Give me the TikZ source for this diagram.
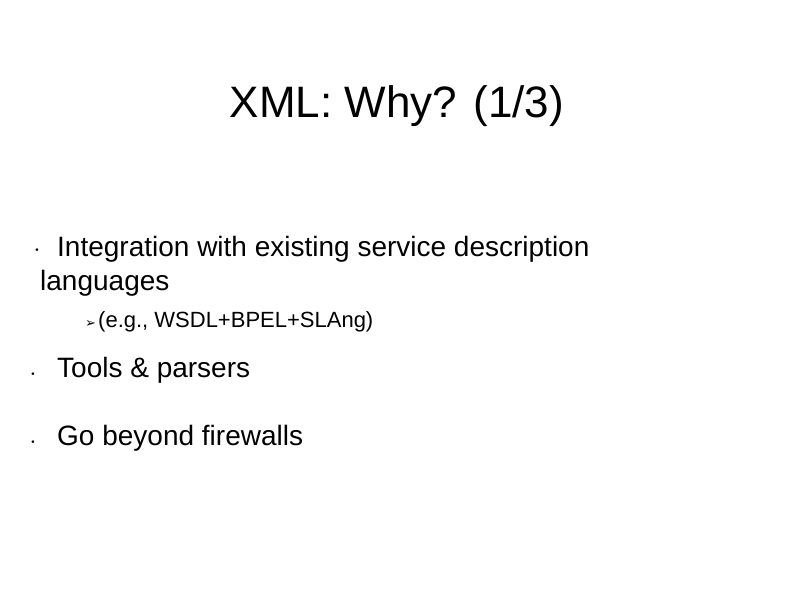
\documentclass[tikz,border=0pt]{standalone}
\usepackage{fontspec}
\setmainfont{Liberation Sans}
\newfontfamily\symf{DejaVu Sans}
\begin{document}
\begin{tikzpicture}[x=1pt,y=1pt,
  txt/.style={anchor=base west,inner sep=0pt,font=\fontsize{28}{30}\selectfont},
  bul/.style={anchor=base,inner sep=0pt,font=\symf\fontsize{9}{10}\selectfont}]
\useasboundingbox (0,0) rectangle (794,-595);
\node[anchor=base,inner sep=0pt,font=\fontsize{44}{48}\selectfont] (title) at (397,-117) {XML: Why? (1/3)};
\node[bul] (b1) at (37,-253) {•};
\node[txt] (t1) at (57,-256) {Integration with existing service description};
\node[txt] (t1b) at (40,-290) {languages};
\node[anchor=base west,inner sep=0pt,font=\symf\fontsize{13}{14}\selectfont] (a1) at (85,-327) {➢};
\node[anchor=base west,inner sep=0pt,font=\fontsize{22}{24}\selectfont] (t2) at (98,-327) {(e.g., WSDL+BPEL+SLAng)};
\node[bul] (b2) at (33,-377) {•};
\node[txt] (t3) at (57,-377) {Tools \& parsers};
\node[bul] (b3) at (33,-445) {•};
\node[txt] (t4) at (57,-445) {Go beyond firewalls};
\end{tikzpicture}
\end{document}
